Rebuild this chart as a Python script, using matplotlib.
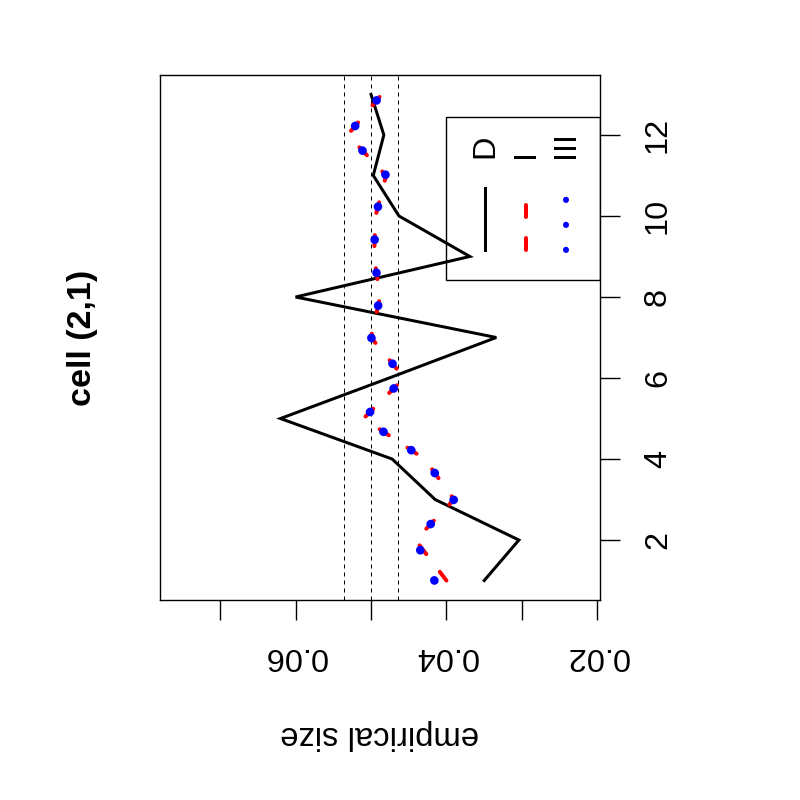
import numpy as np
import matplotlib
matplotlib.use("Agg")
from matplotlib import pyplot as plt
from matplotlib.patches import Rectangle

plt.rcParams['font.family'] = ['Liberation Sans', 'DejaVu Sans']
plt.rcParams['lines.scale_dashes'] = False

# data (index 1..13)
index = list(range(1, 14))
size_D = [0.0350, 0.0304, 0.0415, 0.0472, 0.0620, 0.0476, 0.0334,
          0.0600, 0.0369, 0.0463, 0.0497, 0.0483, 0.0500]
size_I = [0.0400, 0.0441, 0.0390, 0.0429, 0.0510, 0.0456, 0.0500,
          0.0488, 0.0496, 0.0494, 0.0480, 0.0531, 0.0486]
size_III = [0.0416, 0.0441, 0.0390, 0.0429, 0.0510, 0.0456, 0.0500,
            0.0488, 0.0496, 0.0494, 0.0480, 0.0531, 0.0486]
ref_levels = [0.0464, 0.05, 0.0536]
size_ticks = [0.02, 0.03, 0.04, 0.05, 0.06, 0.07]
size_ticklabels = ['0.02', '', '0.04', '', '0.06', '']
index_ticks = [2, 4, 6, 8, 10, 12]
legend_labels = ['D', 'I', 'III']

px = 0.72  # points per pixel at dpi 100
period = 33.3 * px

fig = plt.figure(figsize=(8, 8), dpi=100)
ax = fig.add_axes([0.2, 0.25, 0.55, 0.65625])

# plot is drawn turned a quarter: size runs right-to-left, index bottom-to-top
for lv in ref_levels:
    ax.axvline(lv, color='black', lw=1*px, dashes=(4*px, 4*px))

ax.plot(size_D, index, color='black', lw=3*px, solid_joinstyle='miter')
ax.plot(size_I, index, color='red', lw=4*px,
        dashes=(11*px, period - 11*px), dash_capstyle='round')
ax.plot(size_III, index, color='blue', lw=8.6*px,
        dashes=(0.2, period - 0.2), dash_capstyle='round')

ax.set_xlim(0.07797, 0.01965)
ax.set_ylim(0.52, 13.48)

for s in ax.spines.values():
    s.set_linewidth(1.0)

ax.xaxis.tick_bottom()
ax.yaxis.tick_right()
ax.set_xticks(size_ticks)
ax.set_xticklabels(size_ticklabels, rotation=180, ha='center', va='center',
                   rotation_mode='anchor')
ax.set_yticks(index_ticks)
ax.set_yticklabels([str(v) for v in index_ticks], rotation=90, ha='center',
                   va='center', rotation_mode='anchor')
ax.tick_params(axis='x', direction='out', length=20*px, width=1.0,
               pad=36*px, labelsize=23.4)
ax.tick_params(axis='y', direction='out', length=20*px, width=1.0,
               pad=38*px, labelsize=23.4)
ax.tick_params(left=False, top=False)

ax.text(0.5, -0.257, 'empirical size', transform=ax.transAxes, rotation=180,
        ha='center', va='center', rotation_mode='anchor', fontsize=23.6)
ax.text(-0.177, 0.5, 'cell (2,1)', transform=ax.transAxes, rotation=90,
        ha='center', va='center', rotation_mode='anchor', fontsize=24.5,
        fontweight='bold')

# legend, drawn by hand to match the turned layout
ax.add_patch(Rectangle((0.649, 0.6095), 0.351, 0.311, transform=ax.transAxes,
                       fill=False, lw=1.0, edgecolor='black'))
leg_x = [0.7386, 0.831, 0.922]
ax.plot([leg_x[0]] * 2, [0.6667, 0.7848], transform=ax.transAxes,
        color='black', lw=3*px)
ax.plot([leg_x[1]] * 2, [0.6667, 0.7848], transform=ax.transAxes,
        color='red', lw=4*px, dashes=(12*px, 21*px), dash_capstyle='round')
ax.plot([leg_x[2]] * 2, [0.6667, 0.7848], transform=ax.transAxes,
        color='blue', lw=6*px, dashes=(0.2, 25*px - 0.2),
        dash_capstyle='round')
for lx, lab in zip(leg_x, legend_labels):
    ax.text(lx, 0.842, lab, transform=ax.transAxes, rotation=90,
            ha='left', va='center', rotation_mode='anchor', fontsize=23.4)

fig.savefig('out.png', dpi=100)
